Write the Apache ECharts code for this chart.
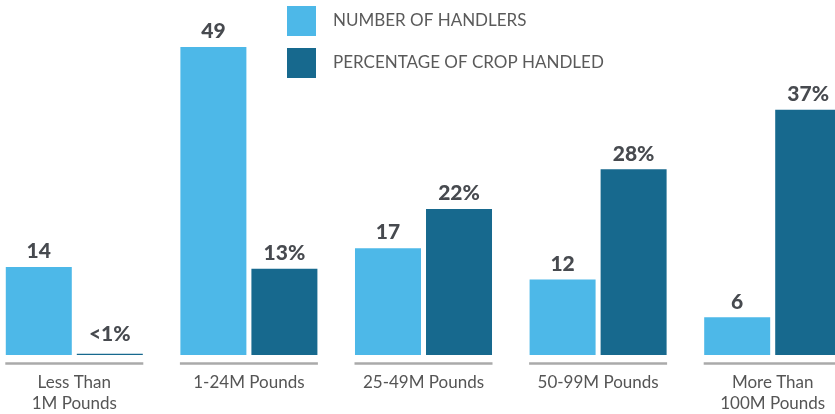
<!DOCTYPE html>
<html>
<head>
<meta charset="utf-8">
<script src="https://cdn.jsdelivr.net/npm/echarts@6/dist/echarts.min.js"></script>
<style>html,body{margin:0;padding:0;background:#fff;overflow:hidden;width:835px;height:414px;}#c{width:873px;height:414px;margin-left:-13px;}</style>
</head>
<body>
<div id="c"></div>
<script>
const categories = ['Less Than\n1M Pounds', '1-24M Pounds', '25-49M Pounds', '50-99M Pounds', 'More Than\n100M Pounds'];
const handlers = [14, 49, 17, 12, 6];
const cropPct = [0.2, 13, 22, 28, 37];
const cropPctLabels = ['<1%', '13%', '22%', '28%', '37%'];
const seriesNames = ['NUMBER OF HANDLERS', 'PERCENTAGE OF CROP HANDLED'];

const LIGHT = '#4db8e8';
const DARK = '#17698e';
const FONT = 'Lato';

const chart = echarts.init(document.getElementById('c'), null, {renderer: 'canvas'});
const labelStyle = {show: true, position: 'top', distance: 5, color: '#474a4f', fontFamily: FONT, fontWeight: 900, fontSize: 21};

chart.setOption({
  animation: false,
  backgroundColor: '#fff',
  legend: {
    orient: 'vertical', left: 300, top: 6, padding: 0, itemWidth: 29, itemHeight: 30, itemGap: 12,
    icon: 'rect', selectedMode: false,
    data: seriesNames,
    textStyle: {color: '#5a5a5a', fontFamily: FONT, fontSize: 17, fontWeight: 400, padding: [0, 0, 0, 12]}
  },
  grid: {left: 0, right: 0, top: 40.7, bottom: 58.3, containLabel: false},
  xAxis: {
    type: 'category', data: categories,
    axisLine: {show: false}, axisTick: {show: false}, splitLine: {show: false},
    axisLabel: {color: '#555', fontFamily: FONT, fontSize: 17, margin: 17, lineHeight: 21, interval: 0}
  },
  yAxis: [
    {type: 'value', min: 0, max: 50, show: false, splitLine: {show: false}},
    {type: 'value', min: 0, max: 47.4, show: false, splitLine: {show: false}}
  ],
  series: [
    {
      name: seriesNames[0], type: 'bar', yAxisIndex: 0, barWidth: 66, barGap: '7.6%',
      itemStyle: {color: LIGHT},
      label: labelStyle,
      data: handlers
    },
    {
      name: seriesNames[1], type: 'bar', yAxisIndex: 1, barWidth: 66, barGap: '7.6%',
      itemStyle: {color: DARK},
      label: Object.assign({}, labelStyle, {formatter: p => cropPctLabels[p.dataIndex]}),
      data: cropPct.map((v, i) => v < 1 ? {value: v, label: {distance: 9}} : v)
    },
    {
      type: 'custom', yAxisIndex: 0, silent: true,
      data: categories.map((c, i) => [i, 0]),
      renderItem: function (params, api) {
        const p = api.coord([api.value(0), 0]);
        const half = 69;
        return {
          type: 'line',
          shape: {x1: p[0] - half, y1: p[1] + 8.6, x2: p[0] + half, y2: p[1] + 8.6},
          style: {stroke: '#aaaaaa', lineWidth: 2.5}
        };
      }
    }
  ]
});
</script>
</body>
</html>
